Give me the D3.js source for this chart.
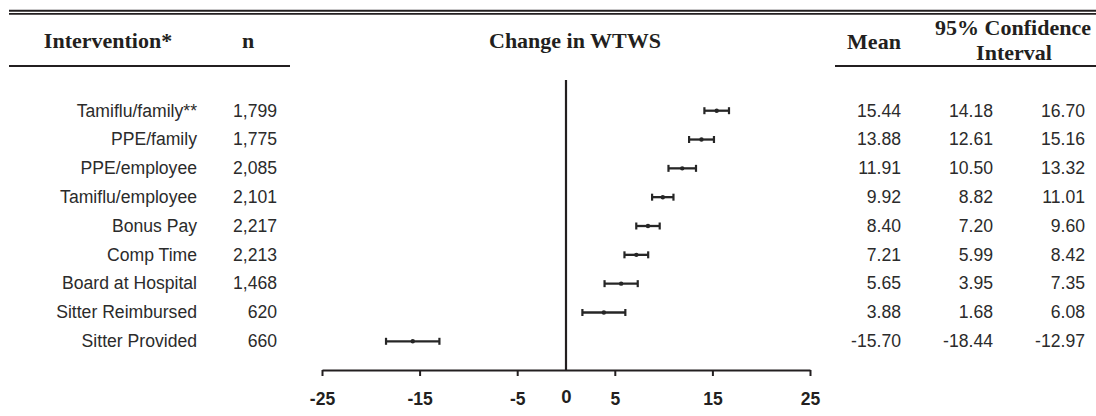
<!DOCTYPE html>
<html>
<head>
<meta charset="utf-8">
<script src="https://cdn.jsdelivr.net/npm/d3@7"></script>
<style>
  body { margin: 0; background: #fff; }
  svg { display: block; }
  .hdr { font-family: "Liberation Serif", "Times New Roman", serif; font-weight: bold; font-size: 22px; fill: #231f20; }
  .cell { font-family: "Liberation Sans", Arial, sans-serif; font-size: 17.6px; fill: #2b2b2b; }
  .axis text { font-family: "Liberation Sans", Arial, sans-serif; font-size: 17.5px; font-weight: bold; fill: #231f20; }
</style>
</head>
<body>
<svg width="1096" height="416"></svg>
<script>
// table data
const interventions = ["Tamiflu/family**", "PPE/family", "PPE/employee", "Tamiflu/employee", "Bonus Pay",
    "Comp Time", "Board at Hospital", "Sitter Reimbursed", "Sitter Provided"];
const nValues = [1799, 1775, 2085, 2101, 2217, 2213, 1468, 620, 660];
const means = [15.44, 13.88, 11.91, 9.92, 8.40, 7.21, 5.65, 3.88, -15.70];
const lower = [14.18, 12.61, 10.50, 8.82, 7.20, 5.99, 3.95, 1.68, -18.44];
const upper = [16.70, 15.16, 13.32, 11.01, 9.60, 8.42, 7.35, 6.08, -12.97];
const tickValues = [-25, -15, -5, 0, 5, 15, 25];

const svg = d3.select("svg"),
    width = +svg.attr("width");

const ink = "#231f20";

const x = d3.scaleLinear().domain([-25, 25]).range([322, 810]);
const y = d3.scalePoint().domain(interventions).range([110.7, 341.3]);

const rows = interventions.map((name, i) => ({
    name: name, n: nValues[i], mean: means[i], lo: lower[i], hi: upper[i]
}));

// rules at top / under headers
svg.append("line").attr("x1", 9).attr("x2", width).attr("y1", 10.8).attr("y2", 10.8)
    .attr("stroke", ink).attr("stroke-width", 1.9);
svg.append("line").attr("x1", 9).attr("x2", width).attr("y1", 13.9).attr("y2", 13.9)
    .attr("stroke", ink).attr("stroke-width", 1.9);
svg.append("line").attr("x1", 9).attr("x2", 290).attr("y1", 66).attr("y2", 66)
    .attr("stroke", ink).attr("stroke-width", 2);
svg.append("line").attr("x1", 835).attr("x2", width).attr("y1", 66).attr("y2", 66)
    .attr("stroke", ink).attr("stroke-width", 2);

// headers
const headers = [
    {t: "Intervention*", x: 108, y: 48},
    {t: "n", x: 248, y: 48},
    {t: "Change in WTWS", x: 575, y: 48},
    {t: "Mean", x: 874, y: 49},
    {t: "95% Confidence", x: 1013, y: 35},
    {t: "Interval", x: 1014, y: 60}
];
svg.selectAll(".hdr")
    .data(headers)
    .join("text")
    .attr("class", "hdr")
    .attr("x", d => d.x)
    .attr("y", d => d.y)
    .attr("text-anchor", "middle")
    .text(d => d.t);

// table columns (plain hyphen for negatives, as in the source table)
const fmtN = d3.format(",");
const fmt2 = v => v.toFixed(2);
const columns = [
    {x: 197, f: d => d.name},
    {x: 277, f: d => fmtN(d.n)},
    {x: 901, f: d => fmt2(d.mean)},
    {x: 993, f: d => fmt2(d.lo)},
    {x: 1085, f: d => fmt2(d.hi)}
];
columns.forEach(c => {
    svg.append("g")
        .selectAll("text")
        .data(rows)
        .join("text")
        .attr("class", "cell")
        .attr("x", c.x)
        .attr("y", d => y(d.name) + 5.8)
        .attr("text-anchor", "end")
        .text(c.f);
});

// x axis
const axis = svg.append("g")
    .attr("class", "axis")
    .attr("transform", "translate(0,370)")
    .call(d3.axisBottom(x).tickValues(tickValues).tickFormat(d => String(d))
        .tickSize(6).tickSizeOuter(0));
axis.select(".domain").attr("stroke", ink).attr("stroke-width", 2);
axis.selectAll(".tick line").attr("stroke", ink).attr("stroke-width", 2);
axis.selectAll(".tick text").attr("dy", 0).attr("y", 35);
axis.selectAll(".tick").filter(d => d === 0).select("line").remove();
axis.selectAll(".tick").filter(d => d === 0).select("text")
    .attr("y", 33).style("font-size", "18.5px");

// zero line
svg.append("line")
    .attr("x1", x(0)).attr("x2", x(0))
    .attr("y1", 80).attr("y2", 370)
    .attr("stroke", ink).attr("stroke-width", 2.2);

// confidence intervals
const ci = svg.append("g").selectAll("g")
    .data(rows)
    .join("g");
ci.append("line")
    .attr("x1", d => x(d.lo)).attr("x2", d => x(d.hi))
    .attr("y1", d => y(d.name)).attr("y2", d => y(d.name))
    .attr("stroke", "#262626").attr("stroke-width", 2.3);
ci.selectAll(".cap")
    .data(d => [d.lo, d.hi].map(v => ({v: v, name: d.name})))
    .join("line")
    .attr("class", "cap")
    .attr("x1", d => x(d.v)).attr("x2", d => x(d.v))
    .attr("y1", d => y(d.name) - 3.5).attr("y2", d => y(d.name) + 3.5)
    .attr("stroke", "#262626").attr("stroke-width", 2.2);
ci.append("circle")
    .attr("cx", d => x(d.mean))
    .attr("cy", d => y(d.name))
    .attr("r", 2.2)
    .attr("fill", "#262626");
</script>
</body>
</html>
